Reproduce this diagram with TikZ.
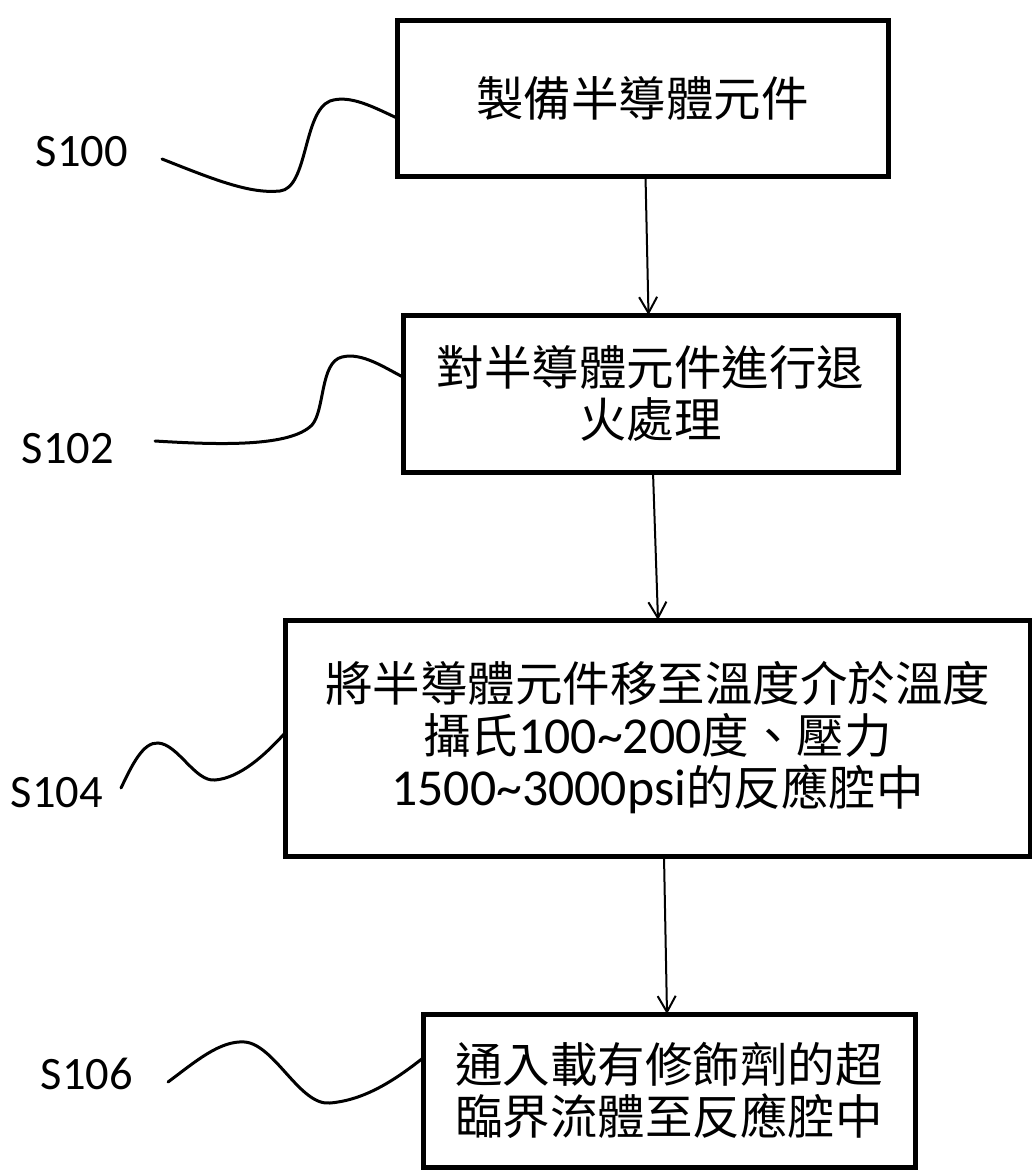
\documentclass[tikz,border=0pt]{standalone}
\usepackage{fontspec}
\setmainfont{Carlito}
\newfontfamily\cjk{Noto Sans CJK TC}
\newfontfamily\lat{Carlito}[Scale=1.09]
\usetikzlibrary{arrows.meta}
\begin{document}
\begin{tikzpicture}[x=1pt,y=-1pt,
  box/.style={draw,line width=5pt,inner sep=0pt,outer sep=0pt,align=center,font=\cjk\fontsize{47.5}{52}\selectfont},
  lbl/.style={inner sep=0pt,outer sep=0pt,font=\fontsize{46.5}{50}\selectfont},
  lead/.style={line width=3pt,line cap=round},
  flow/.style={line width=2pt,-{Straight Barb[length=16pt,width=18pt]}}]
\useasboundingbox[fill=white] (0,0) rectangle (1032,1173);

\node[box,minimum width=491pt,minimum height=156pt] (b1) at (642.5,98) {製備半導體元件};
\node[box,minimum width=495pt,minimum height=157pt] (b2) at (650.5,393.5) {對半導體元件進行退\\火處理};
\node[box,minimum width=745pt,minimum height=236pt] (b3) at (657.5,738) {將半導體元件移至溫度介於溫度\\攝氏{\lat 100\textasciitilde200}度、壓力\\{\lat 1500\textasciitilde3000psi}的反應腔中};
\node[box,minimum width=492pt,minimum height=153pt] (b4) at (669,1090.5) {通入載有修飾劑的超\\臨界流體至反應腔中};

\node[lbl] (l100) at (82,152) {S100};
\node[lbl] (l102) at (68,449) {S102};
\node[lbl] (l104) at (57,793) {S104};
\node[lbl] (l106) at (87,1074) {S106};

\draw[flow] ([xshift=3pt]b1.south) -- ([xshift=-2pt]b2.north);
\draw[flow] ([xshift=2.5pt]b2.south) -- ([xshift=0.5pt]b3.north);
\draw[flow] ([xshift=6.5pt]b3.south) -- ([xshift=-2pt]b4.north);

\draw[lead] ([xshift=34pt,yshift=-7pt]l100.east) .. controls (215,180) and (250,194) .. (280,191)
  .. controls (308,188) and (303,112) .. (330,101)
  .. controls (350,94) and (375,108) .. ([yshift=-20pt]b1.west);
\draw[lead] ([xshift=41pt,yshift=8pt]l102.east) .. controls (220,445) and (290,447) .. (312,425)
  .. controls (325,410) and (320,362) .. (342,357)
  .. controls (362,352) and (385,368) .. ([yshift=16.5pt]b2.west);
\draw[lead] ([xshift=18pt,yshift=5pt]l104.east) .. controls (132,765) and (143,742) .. (158,743)
  .. controls (178,744) and (195,782) .. (215,780)
  .. controls (240,778) and (265,755) .. ([yshift=5pt]b3.west);
\draw[lead] ([xshift=35pt,yshift=-8pt]l106.east) .. controls (195,1062) and (220,1040) .. (245,1042)
  .. controls (275,1045) and (300,1106) .. (330,1103)
  .. controls (365,1100) and (395,1080) .. ([yshift=32.5pt]b4.west);
\end{tikzpicture}
\end{document}
